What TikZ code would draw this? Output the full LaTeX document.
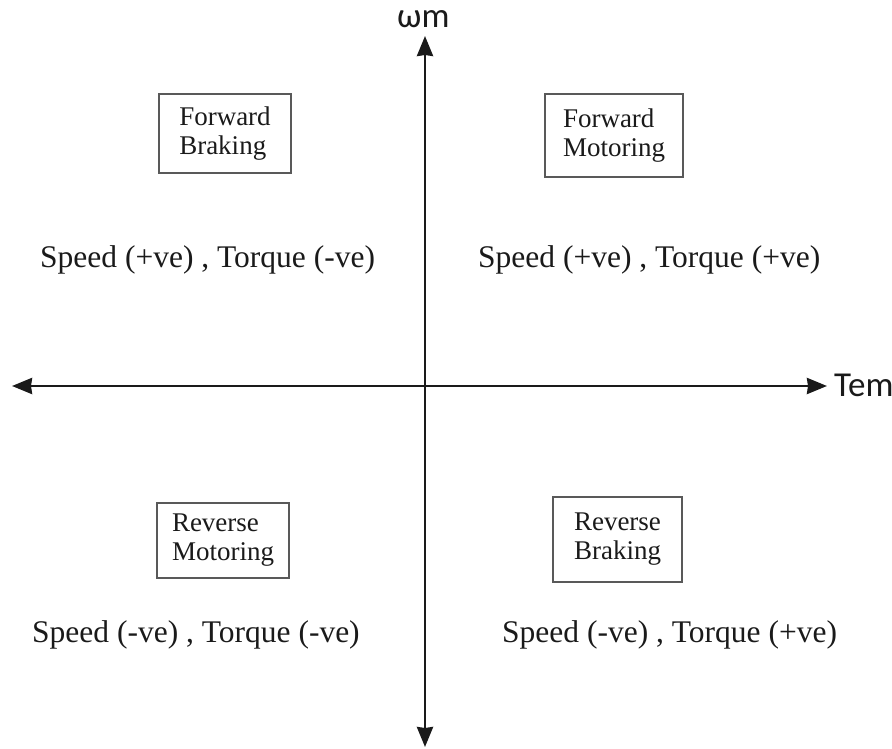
\documentclass[tikz,border=0pt]{standalone}
\usepackage{fontspec}
\setmainfont{Liberation Serif}
\newfontfamily\axisfont{Carlito}
\usetikzlibrary{arrows.meta}
\definecolor{ink}{HTML}{1A1A1A}
\tikzset{
  axis/.style={line width=2.8pt, draw=ink, {Stealth[length=20pt,width=16pt,inset=1pt]}-{Stealth[length=20pt,width=16pt,inset=1pt]}},
  modebox/.style={draw=black!65, line width=1.8pt, align=left, inner sep=0pt, text=ink,
    font=\fontsize{27}{29}\selectfont},
  quadtext/.style={anchor=base west, inner sep=0pt, text=ink, font=\fontsize{31.5}{36}\selectfont},
  axlabel/.style={inner sep=0pt, text=ink, font=\axisfont\fontsize{35}{37}\selectfont}
}
\begin{document}
\begin{tikzpicture}[x=1pt,y=-1pt]
\useasboundingbox (0,0) rectangle (892,749);
% axes
\coordinate (xl) at (12,386);
\coordinate (xr) at (827,386);
\coordinate (yt) at (425,36);
\coordinate (yb) at (425,747);
\draw[axis] (xl) -- (xr);
\draw[axis] (yb) -- (yt);
% axis labels
\node[axlabel, anchor=base west] (wm) at (397,28) {ωm};
\node[axlabel, anchor=base west] (tem) at (834,396) {Tem};
% mode boxes
\node[modebox, minimum width=132pt, minimum height=79pt] (fb) at (225,133.5) {Forward\\Braking};
\node[modebox, minimum width=138pt, minimum height=83pt] (fm) at (614,135.5) {Forward\\Motoring};
\node[modebox, minimum width=132pt, minimum height=75pt] (rm) at (223,540.5) {Reverse\\Motoring};
\node[modebox, minimum width=129pt, minimum height=85pt] (rb) at (617.5,539.5) {Reverse\\Braking};
% quadrant texts
\node[quadtext] (q2) at (40,267) {Speed (+ve) , Torque (-ve)};
\node[quadtext] (q1) at (478,267) {Speed (+ve) , Torque (+ve)};
\node[quadtext] (q3) at (32,642) {Speed (-ve) , Torque (-ve)};
\node[quadtext] (q4) at (502,642) {Speed (-ve) , Torque (+ve)};
\end{tikzpicture}
\end{document}
